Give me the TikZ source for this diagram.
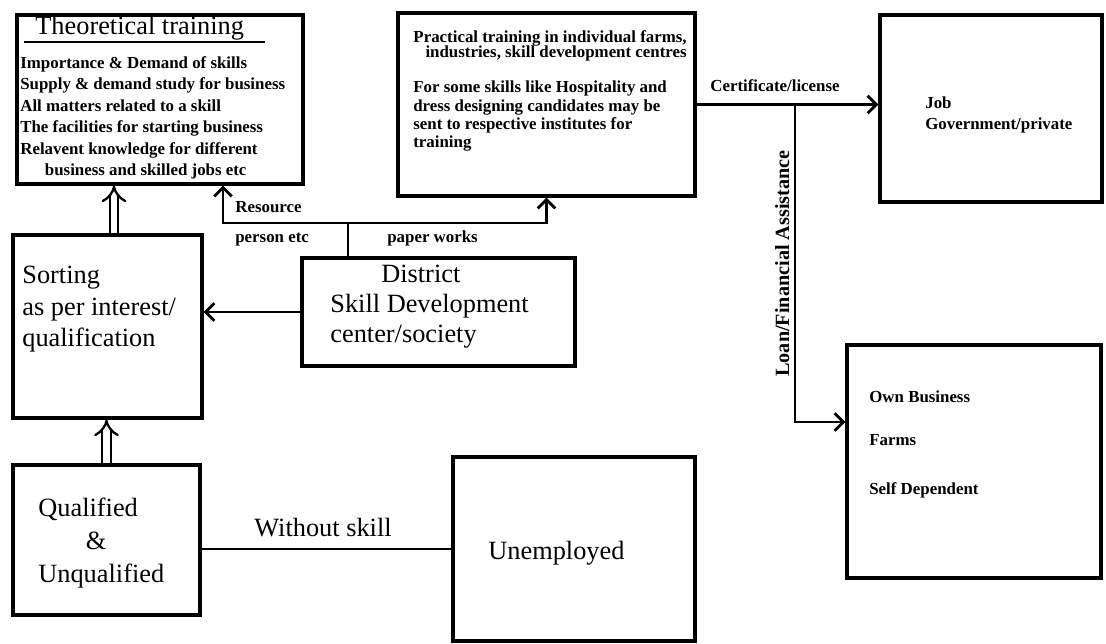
\documentclass[tikz,border=0pt]{standalone}
\usepackage{fontspec}
\setmainfont{Liberation Serif}
\usepackage{tikz}
\usetikzlibrary{positioning,arrows.meta}

\begin{document}
\begin{tikzpicture}[x=0.02cm,y=-0.02cm]
	\tikzset{box/.style={draw,line width=1.8pt,inner sep=0pt}}
	\tikzset{body/.style={font=\fontsize{9.6}{12.2}\selectfont\bfseries,align=left,inner sep=0pt}}
	\tikzset{big/.style={font=\fontsize{15}{19}\selectfont,align=left,inner sep=0pt}}
	\tikzset{arr/.style={line width=1.6pt,-{Straight Barb[length=5pt,width=10pt]}}}
	\tikzset{hollow/.style={double,double distance=3.5pt,line width=1.3pt,-{Implies}}}
%	\tikzset{link/.style={line width=1.3pt}}
\useasboundingbox (0,0) rectangle (1106,644);

\node[box,minimum width=5.72cm,minimum height=3.38cm] (theo) at (160,99.5) {};
\node[box,minimum width=5.94cm,minimum height=3.66cm] (prac) at (546.5,104.5) {};
\node[box,minimum width=4.44cm,minimum height=3.74cm] (job) at (991,108.5) {};
\node[box,minimum width=5.08cm,minimum height=4.66cm] (own) at (974,461.5) {};
\node[box,minimum width=3.78cm,minimum height=3.66cm] (sort) at (107.5,326.5) {};
\node[box,minimum width=5.46cm,minimum height=2.16cm] (dist) at (438.5,312) {};
\node[box,minimum width=3.74cm,minimum height=3.00cm] (qual) at (106.5,540) {};
\node[box,minimum width=4.84cm,minimum height=3.68cm] (unemp) at (574,549) {};

% base of a multi-line node is its last line
\node[big,anchor=base west] (title) at (35,35) {Theoretical training};
\draw[line width=1.1pt] ([xshift=-6pt,yshift=-4pt]title.base west) -- ([xshift=12pt,yshift=-4pt]title.base east);
\node[body,anchor=base west] (theoText) at (20,175.5) {Importance \& Demand of skills\\
	Supply \& demand study for business\\
	All matters related to a skill\\
	The facilities for starting business\\
	Relavent knowledge for different\\
	\hspace*{14pt}business and skilled jobs etc};
\node[body,align=right,anchor=base east] (pracHead) at (687,58) {Practical training in individual farms,\\[-3.5pt]
	industries, skill development centres};
\node[body,font=\fontsize{9.6}{10.5}\selectfont\bfseries,anchor=base west] (pracText) at (413,148) {For some skills like Hospitality and\\
	dress designing candidates may be\\
	sent to respective institutes for\\
	training};
\node[body,anchor=base west] (jobText) at (925,130) {Job\\Government/private};
\node[body,anchor=base west] (ownText) at (869,495) {Own Business\\[12pt]Farms\\[16pt]Self Dependent};
\node[big,font=\fontsize{15}{18}\selectfont,anchor=base west] (sortText) at (22,347) {Sorting\\as per interest/\\qualification};
\node[big,font=\fontsize{15}{17.3}\selectfont,anchor=base west] (distText) at (330,343) {\hspace*{29pt}District\\
	Skill Development\\
	center/society};
\node[big,anchor=base west] (qualText) at (38,583) {Qualified\\\hspace*{27pt}\&\\Unqualified};
\node[big,anchor=base west] (unempText) at (488,560) {Unemployed};

% connectors
\coordinate (up) at (114,0);
\draw[hollow] (qual.north) -- (qual.north |- sort.south);
\draw[hollow] (up |- sort.north) -- (up |- theo.south);
\draw[arr] (dist.west) -- (dist.west -| sort.east);

\coordinate (split) at (348,223);
\coordinate (resUp) at (223,223);
\draw[line width=1.6pt] (split |- dist.north) -- (split);
\draw[arr] (split) -- (resUp) -- (resUp |- theo.south);
\draw[arr] (split) -- (split -| prac.south) -- (prac.south);
\node[body,anchor=base west] (resLbl) at (235,213) {Resource};
\node[body,anchor=base west] (personLbl) at (235,243) {person etc};
\node[body,anchor=base west] (paperLbl) at (387,243) {paper works};

\coordinate (loan) at (795,422);
\draw[arr] (prac.east) -- (prac.east -| job.west);
\draw[arr] (loan |- prac.east) -- (loan) -- (loan -| own.west);
\node[body,anchor=base west] (certLbl) at (710,92) {Certificate/license};
\node[body,font=\fontsize{11.5}{13}\selectfont\bfseries,rotate=90,anchor=base] (loanLbl) at (789,263.5) {Loan/Financial Assistance};

\draw[line width=1.6pt] (unemp.west -| qual.east) -- (unemp.west);
\node[big,anchor=base west] (skillLbl) at (254,537) {Without skill};

	\end{tikzpicture}
\end{document}
